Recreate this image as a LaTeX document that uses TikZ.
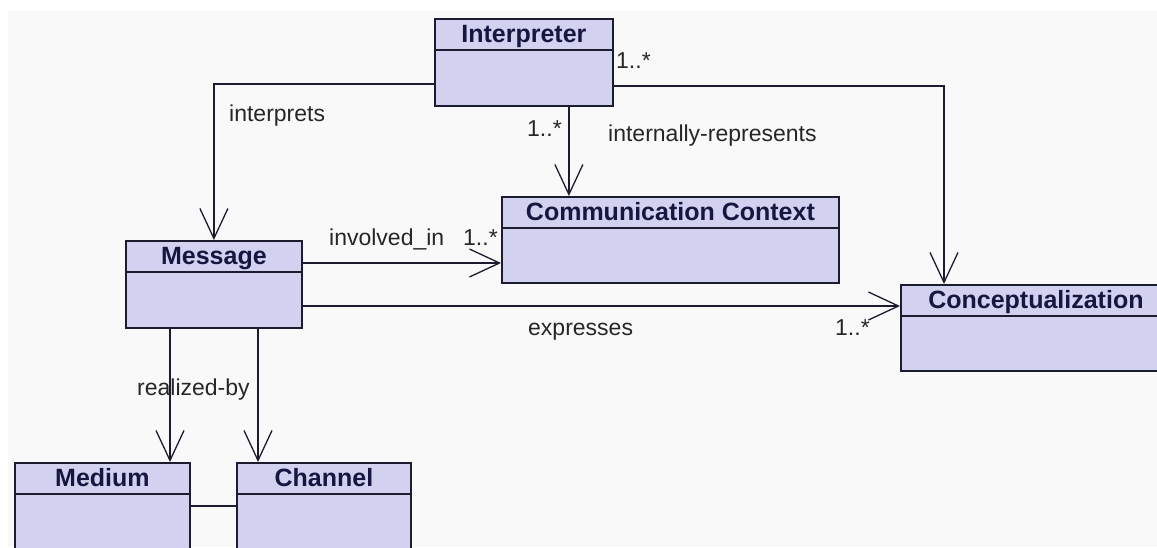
\documentclass[tikz,border=0pt]{standalone}
\usepackage{fontspec}
\setmainfont{Liberation Sans}
\usetikzlibrary{positioning,arrows.meta,calc}

\definecolor{classfill}{RGB}{210,210,240}
\definecolor{classline}{RGB}{28,28,48}
\definecolor{classtext}{RGB}{22,22,64}
\definecolor{canvas}{RGB}{249,249,249}

\begin{document}
\begin{tikzpicture}[x=1pt,y=-1pt,
    classbody/.style={draw=classline,fill=classfill,line width=1.8pt,anchor=north west,inner sep=0pt},
    classhead/.style={draw=classline,fill=classfill,line width=1.8pt,anchor=north,minimum height=31pt,inner sep=0pt,
        text height=17pt,text depth=0pt,font=\fontsize{25}{28}\selectfont\bfseries,text=classtext},
    assoc/.style={draw=classline,line width=1.6pt,-{Straight Barb[length=30pt,width=28pt,line width=1.3pt]}},
    link/.style={draw=classline,line width=1.6pt},
    role/.style={anchor=base west,inner sep=0pt,font=\fontsize{23}{26}\selectfont,text=black!85},
]
\useasboundingbox (0,0) rectangle (1157,547);
\fill[canvas] (8,11) rectangle (1157,547);

% classes: body first, header on top of it
\node[classbody,minimum width=178pt,minimum height=87pt] (interp) at (434,18) {};
\node[classhead,minimum width=178pt] (interph) at (interp.north) {Interpreter};

\node[classbody,minimum width=176pt,minimum height=87pt] (msg) at (125,240) {};
\node[classhead,minimum width=176pt] (msgh) at (msg.north) {Message};

\node[classbody,minimum width=337pt,minimum height=86pt] (ctx) at (501,196) {};
\node[classhead,minimum width=337pt] (ctxh) at (ctx.north) {Communication Context};

\node[classbody,minimum width=270pt,minimum height=86pt] (concept) at (900,284) {};
\node[classhead,minimum width=270pt] (concepth) at (concept.north) {Conceptualization};

\node[classbody,minimum width=175pt,minimum height=100pt] (medium) at (14,462) {};
\node[classhead,minimum width=175pt] (mediumh) at (medium.north) {Medium};

\node[classbody,minimum width=174pt,minimum height=100pt] (channel) at (236,462) {};
\node[classhead,minimum width=174pt] (channelh) at (channel.north) {Channel};

% attachment points on the class borders
\coordinate (ir) at ($(interp.south)+(45,0)$);
\coordinate (ct) at ($(concept.north west)+(44,0)$);
\coordinate (m1) at ($(msg.north east)+(0,23)$);
\coordinate (m2) at ($(msg.north east)+(0,66)$);
\coordinate (m3) at ($(msg.south west)+(45,0)$);
\coordinate (m4) at ($(msg.south west)+(133,0)$);
\coordinate (md) at ($(medium.north east)+(0,44)$);

% associations
\draw[assoc] ($(interp.north west)+(0,66)$) -| (msg.north);
\draw[assoc] (ir) -- (ir |- ctx.north);
\draw[assoc] ($(interp.north east)+(0,68)$) -| (ct);
\draw[assoc] (m1) -- (m1 -| ctx.west);
\draw[assoc] (m2) -- (m2 -| concept.west);
\draw[assoc] (m3) -- (m3 |- medium.north);
\draw[assoc] (m4) -- (m4 |- channel.north);
\draw[link] (md) -- (md -| channel.west);

% role names and multiplicities
\node[role] (lint)  at (229,121) {interprets};
\node[role] (mint)  at (616,68)  {1..*};
\node[role] (mrep)  at (527,136) {1..*};
\node[role] (lrep)  at (608,141) {internally-represents};
\node[role] (linv)  at (329,245) {involved\_in};
\node[role] (minv)  at (463,245) {1..*};
\node[role] (lexp)  at (528,335) {expresses};
\node[role] (mexp)  at (835,335) {1..*};
\node[role] (lreal) at (137,395) {realized-by};
\end{tikzpicture}
\end{document}
